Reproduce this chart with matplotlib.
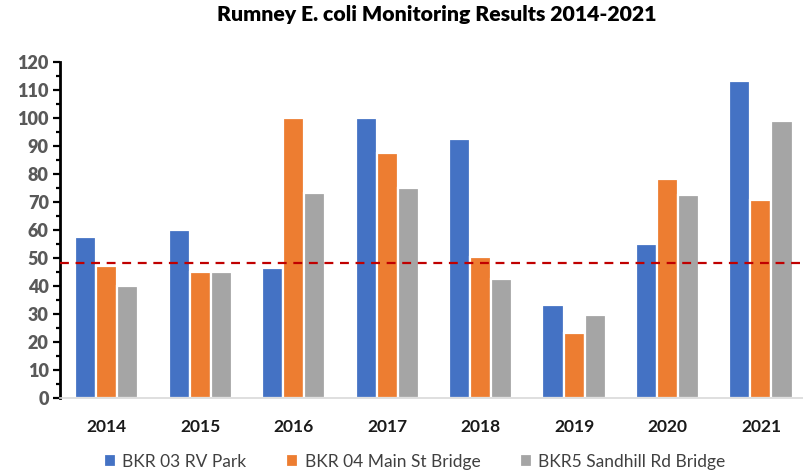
import matplotlib.pyplot as plt
import numpy as np
from matplotlib.ticker import MultipleLocator

years = ['2014', '2015', '2016', '2017', '2018', '2019', '2020', '2021']
rv_park = [57.5, 60, 46.5, 100, 92.5, 33.2, 55, 113]
main_st = [47, 45, 100, 87.5, 50.2, 23.1, 78, 70.7]
sandhill = [40, 45, 73.2, 75, 42.4, 29.6, 72.5, 99]
series_names = ['BKR 03 RV Park', 'BKR 04 Main St Bridge', 'BKR5 Sandhill Rd Bridge']
threshold = 48

colors = ['#4472c4', '#ed7d31', '#a5a5a5']

plt.rcParams['font.family'] = ['Lato', 'DejaVu Sans']

fig = plt.figure(figsize=(8.04, 4.72), dpi=100)
ax = fig.add_axes([0.0746, 0.157, 0.93, 0.712])

x = np.arange(len(years))
step = 0.225
for i, (vals, name) in enumerate(zip([rv_park, main_st, sandhill], series_names)):
    ax.bar(x + (i - 1) * step, vals, width=step, color=colors[i],
           edgecolor='white', linewidth=1.6, label=name, zorder=2)

ax.axhline(threshold, color='#c00000', linestyle=(0, (4, 3)), linewidth=1.6, zorder=3)

ax.set_xlim(-0.5, len(years) - 0.5)
ax.set_ylim(0, 120)
ax.yaxis.set_major_locator(MultipleLocator(10))
ax.yaxis.set_minor_locator(MultipleLocator(5))
ax.set_xticks(x)
ax.set_xticklabels(years, fontsize=12.5, fontweight='bold', color='#1a1a1a')
ax.tick_params(axis='x', length=0, pad=15)
ax.tick_params(axis='y', which='major', length=5, width=1.6, color='black',
               labelsize=13, labelcolor='#595959', pad=3)
ax.tick_params(axis='y', which='minor', length=3, width=1.6, color='black')
for lbl in ax.get_yticklabels():
    lbl.set_fontweight('heavy')

ax.spines['top'].set_visible(False)
ax.spines['right'].set_visible(False)
ax.spines['left'].set_linewidth(2)
ax.spines['left'].set_color('black')
ax.spines['bottom'].set_color('#d9d9d9')
ax.spines['bottom'].set_linewidth(1.2)

fig.suptitle('Rumney E. coli Monitoring Results 2014-2021', fontsize=15.3,
             fontweight='heavy', x=0.543, y=0.99, color='black')

fig.legend(loc='lower center', bbox_to_anchor=(0.516, -0.028), ncol=3,
           frameon=False, fontsize=12.5, handlelength=0.7, handleheight=0.7,
           handletextpad=0.35, columnspacing=2.3, labelcolor='#404040')

fig.savefig('out.png', dpi=100)
